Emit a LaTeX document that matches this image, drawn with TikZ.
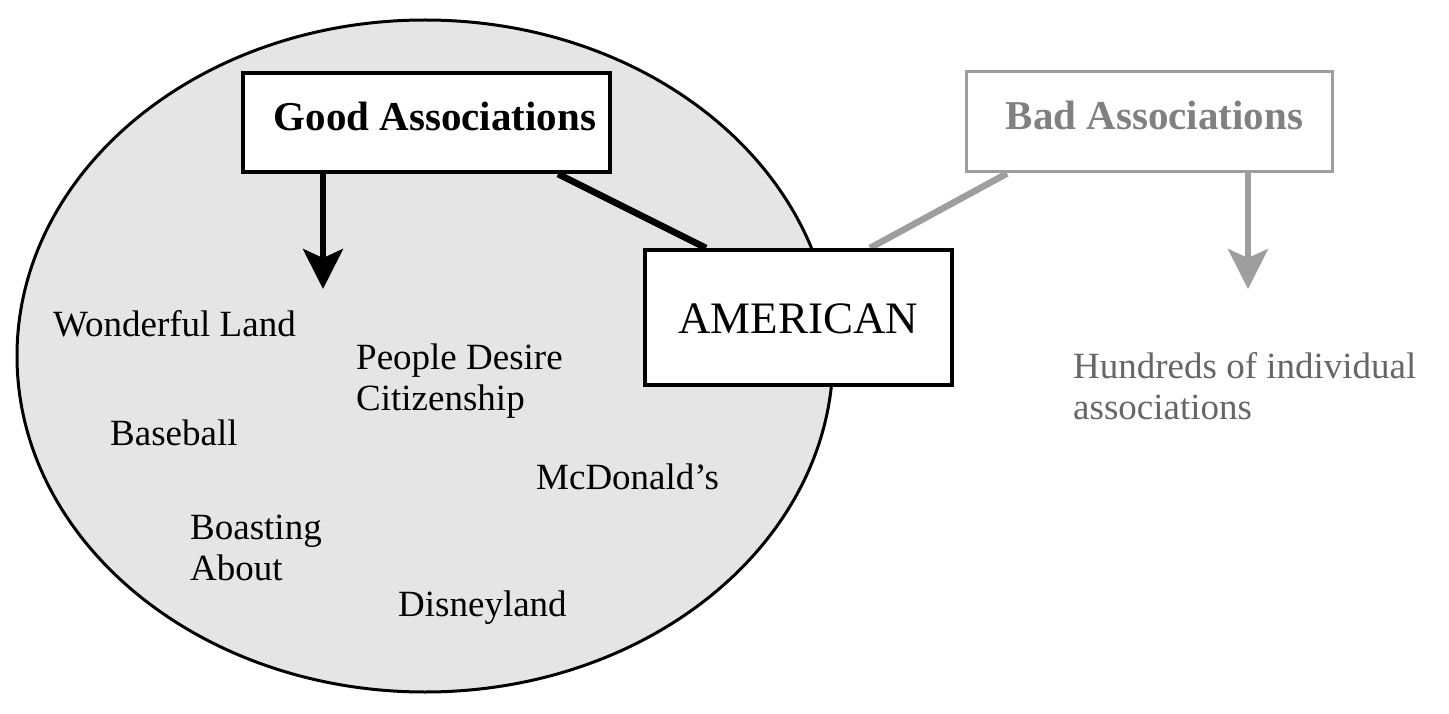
\documentclass[tikz,border=0pt]{standalone}
\usepackage{fontspec}
\setmainfont{Liberation Serif}
\usetikzlibrary{arrows.meta,calc}
\pgfdeclarelayer{background}
\pgfsetlayers{background,main}
\definecolor{ellfill}{gray}{0.9}
\definecolor{badgray}{gray}{0.62}
\definecolor{badtext}{gray}{0.5}
\definecolor{hundtext}{gray}{0.4}
\begin{document}
\begin{tikzpicture}[x=1pt,y=-1pt,
  box/.style={draw=black, line width=4pt, fill=white, inner sep=0pt},
  badbox/.style={draw=badgray, line width=3pt, fill=white, inner sep=0pt, text=badtext},
  headfont/.style={font=\fontsize{41}{45}\selectfont\bfseries},
  item/.style={anchor=base west, inner sep=0pt, font=\fontsize{37}{41}\selectfont, align=left},
  blackarrow/.style={line width=5.5pt, -{Stealth[width=40pt,length=40pt,inset=9pt]}},
  grayarrow/.style={draw=badgray, line width=5.5pt, -{Stealth[width=40pt,length=40pt,inset=9pt]}},
  blackline/.style={line width=6.5pt},
  grayline/.style={draw=badgray, line width=6.5pt}
]
\useasboundingbox (0,0) rectangle (1449,714);

% boxes
\node[box, headfont, minimum width=367pt, minimum height=99pt, text height=30pt, text depth=14pt]
  (good) at (426.5,122.5) {\hspace*{17pt}Good Associations};
\node[badbox, headfont, minimum width=366pt, minimum height=100pt, text height=30pt, text depth=14pt]
  (bad) at (1149,122) {\hspace*{11pt}Bad Associations};
\node[box, font=\fontsize{45}{50}\selectfont, minimum width=307pt, minimum height=135pt, text height=31pt, text depth=0pt]
  (american) at (798.5,317.5) {AMERICAN};

% items
\node[item] (wonder) at (53,336) {Wonderful Land};
\node[item] (people) at (356,410) {People Desire\\Citizenship};
\node[item] (baseball) at (110,445) {Baseball};
\node[item] (mcd) at (536,489) {McDonald’s};
\node[item] (boast) at (190,580) {Boasting\\About};
\node[item] (disney) at (398,616) {Disneyland};
\node[item, text=hundtext] (hundreds) at (1073,419) {Hundreds of individual\\associations};

\begin{pgfonlayer}{background}
% big ellipse
\draw[fill=ellfill, line width=3pt] (425,356) ellipse [x radius=408, y radius=336];
% connectors
\coordinate (gtip) at (323,289);
\coordinate (btip) at (1248,289);
\draw[blackarrow] (good.south -| gtip) -- (gtip);
\draw[grayarrow] (bad.south -| btip) -- (btip);
\draw[blackline] ([xshift=131.5pt]good.south) -- ([xshift=-92.5pt]american.north);
\draw[grayline] ([xshift=-142pt]bad.south) -- ([xshift=71.5pt]american.north);
\end{pgfonlayer}
\end{tikzpicture}
\end{document}
